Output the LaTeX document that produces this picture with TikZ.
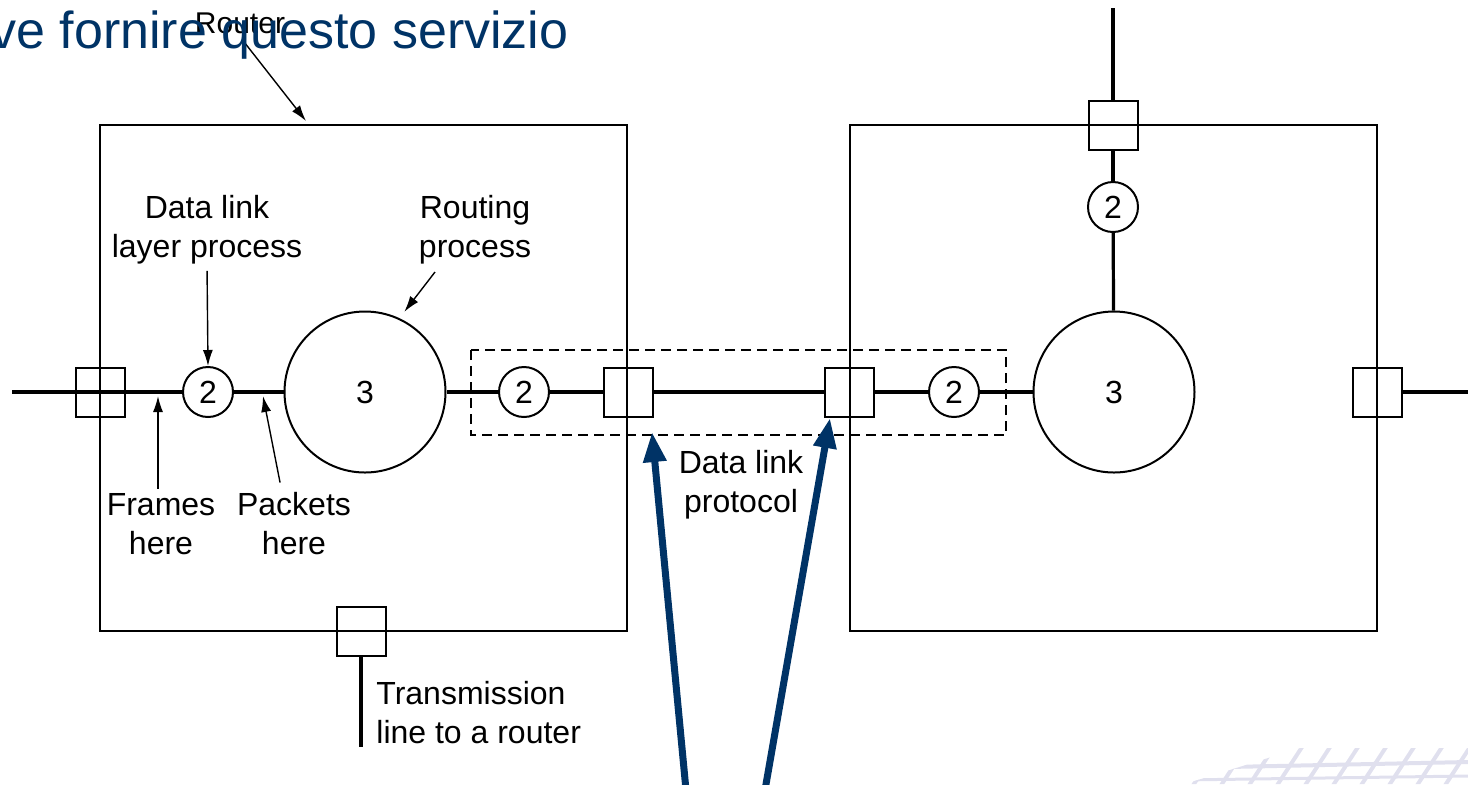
\documentclass[tikz,border=0pt]{standalone}
\usepackage{fontspec}
\setmainfont{Liberation Sans}
\usetikzlibrary{arrows.meta}

\definecolor{slideblue}{RGB}{0,51,102}
\definecolor{wmark}{RGB}{224,224,238}

\begin{document}
\begin{tikzpicture}[x=0.5pt,y=-0.5pt,
  every node/.style={font=\fontsize{16}{19.5}\selectfont},
  proc/.style={circle,draw,line width=1pt,fill=white,inner sep=0pt,minimum size=25pt},
  route/.style={circle,draw,line width=1pt,fill=white,inner sep=0pt,minimum size=80.5pt},
  port/.style={rectangle,draw,line width=1pt,inner sep=0pt,minimum size=24.5pt},
  rbox/.style={rectangle,draw,line width=1pt,inner sep=0pt,minimum width=263.5pt,minimum height=253pt},
  wire/.style={line width=1.6pt},
  note/.style={align=center,inner sep=0pt},
  pointer/.style={-{Latex[length=8pt,width=5pt]},line width=0.7pt},
  callout/.style={-{Triangle[length=15pt,width=11pt]},line width=3.5pt,slideblue}]
\useasboundingbox (0,0) rectangle (1468,784);

% watermark
\begin{scope}
\clip (1185,784) -- (1300,748) -- (1468,748) -- (1468,784) -- cycle;
\foreach \x in {1190,1218,...,1470}
  \draw[wmark,line width=2pt] (\x,790) -- (\x+30,744);
\draw[wmark,line width=2pt] (1180,768) -- (1468,762);
\draw[wmark,line width=1.5pt] (1180,780) -- (1468,776);
\end{scope}

% routers
\node[rbox] (rtA) at (363.5,378) {};
\node[rbox] (rtB) at (1113,378) {};
\draw[dashed,dash pattern=on 5pt off 3pt,line width=0.7pt] (471,350) rectangle (1006,435);

% ports
\node[port] (sqL) at (100,392) {};
\node[port] (sqM1) at (628,392) {};
\node[port] (sqM2) at (849,392) {};
\node[port] (sqR) at (1377,392) {};
\node[port] (sqT) at (1113,125) {};
\node[port] (sqB) at (361,631) {};

% processes
\node[proc] (pA) at (208,392) {2};
\node[route] (rA) at (365,392) {3};
\node[proc] (pB) at (524,392) {2};
\node[proc] (pC) at (954,392) {2};
\node[route] (rB) at (1114,392) {3};
\node[proc] (pD) at (1113,207) {2};

\coordinate (inL) at (12,392);
\coordinate (outR) at (1468,392);
\coordinate (outT) at (1113,8);
\coordinate (outB) at (361,747);

\draw[wire] (inL) -- (pA);
\draw[wire] (pA) -- (rA);
\draw[wire] (rA) -- (pB);
\draw[wire] (pB) -- (sqM1);
\draw[wire] (sqM1) -- (sqM2);
\draw[wire] (sqM2) -- (pC);
\draw[wire] (pC) -- (rB);
\draw[wire] (sqR) -- (outR);
\draw[wire] (outT) -- (sqT);
\draw[wire] (sqT) -- (pD);
\draw[wire] (pD) -- (rB);
\draw[wire] (sqB) -- (outB);

% labels
\node[note,font=\fontsize{15}{18}\selectfont] (rtr) at (240,23) {Router};
\node[note] (dl) at (207,230) {Data link\\layer process};
\node[note] (rp) at (475,230) {Routing\\process};
\node[note] (fr) at (161,524) {Frames\\here};
\node[note] (pk) at (294,524) {Packets\\here};
\node[note] (dlp) at (741,485) {Data link\\protocol};
\node[note,align=left,anchor=west] (tl) at (376,713) {Transmission\\line to a router};

\coordinate (frTip) at (158,396);
\coordinate (pkTip) at (263,396);
\coordinate (rtrTip) at (306,121);

\draw[pointer] ([xshift=2pt,yshift=-4pt]rtr.south) -- (rtrTip);
\draw[pointer,shorten <=3pt] (dl.south) -- (pA.north);
\draw[pointer,shorten >=4pt] (435,272) -- (rA.65);
\draw[pointer,shorten <=2pt] ([xshift=-1.5pt]fr.north) -- (frTip);
\draw[pointer,shorten <=5pt] ([xshift=-6pt]pk.north) -- (pkTip);

% callouts
\coordinate (cA) at (686,790);
\coordinate (cB) at (765,790);
\coordinate (cAtip) at (652,432);
\coordinate (cBtip) at (830,418);
\draw[callout] (cA) -- (cAtip);
\draw[callout] (cB) -- (cBtip);

\node[anchor=base west,inner sep=0pt,text=slideblue,font=\fontsize{26}{30}\selectfont] (title) at (-10,48) {ve fornire questo servizio};
\end{tikzpicture}
\end{document}
